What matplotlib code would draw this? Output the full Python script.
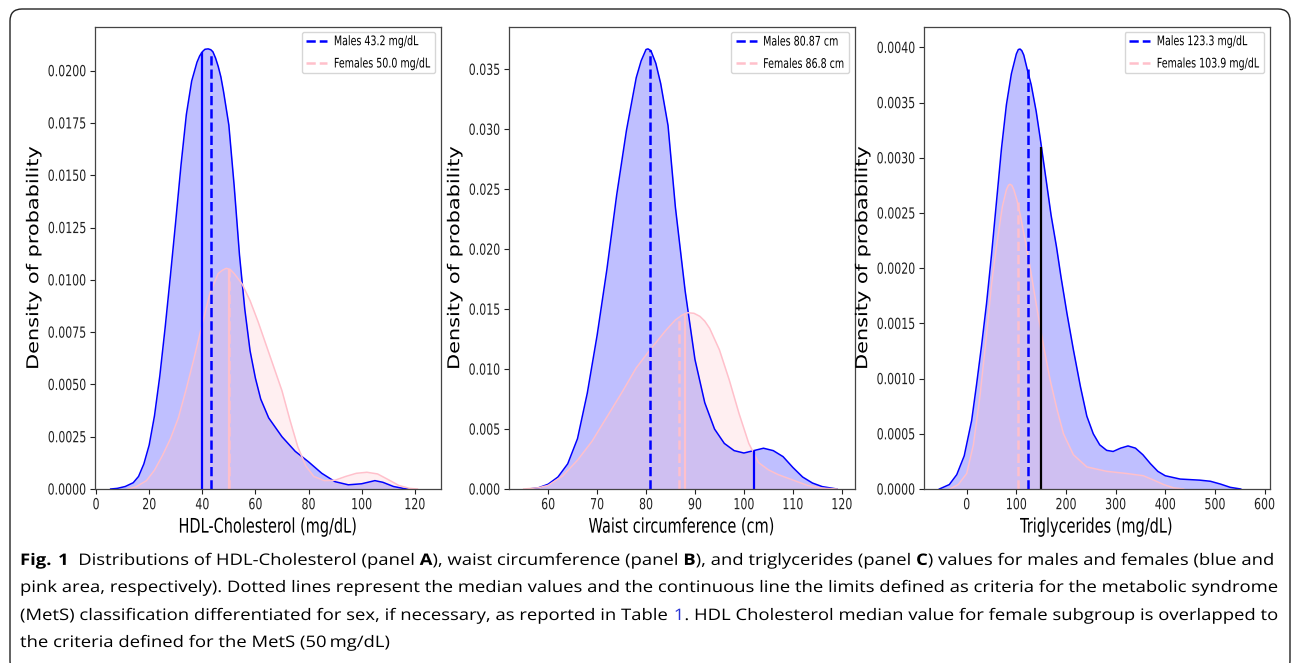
import numpy as np
import matplotlib
matplotlib.use("Agg")
import matplotlib.pyplot as plt
from matplotlib import font_manager
from matplotlib.patches import FancyBboxPatch
from matplotlib.patheffects import AbstractPathEffect
from matplotlib.transforms import IdentityTransform, Affine2D

# ---- data (kde curves, medians, MetS limits) ----
hdl_m_x = [5.5, 8, 11, 14, 16, 18, 20, 22, 24, 26, 28, 30, 32, 34, 36, 38, 39, 40, 41, 42.2, 43.2,
           44, 45, 46, 47, 48, 50, 52, 54, 56, 58, 60, 62, 65, 70, 75, 80, 85, 90, 95, 100, 105,
           108, 112, 116, 119]
hdl_m_y = [0, 0.00003, 0.00012, 0.0003, 0.0006, 0.0012, 0.0021, 0.0035, 0.0054, 0.0077, 0.0102,
           0.0128, 0.0155, 0.0179, 0.0195, 0.0204, 0.0207, 0.0209, 0.02102, 0.02104, 0.0210,
           0.0209, 0.0206, 0.0202, 0.0197, 0.0190, 0.0174, 0.0145, 0.0112, 0.0086, 0.0066,
           0.0053, 0.0043, 0.0034, 0.0025, 0.0018, 0.0013, 0.00075, 0.00035, 0.0002, 0.00025,
           0.0004, 0.00032, 0.00012, 0.00002, 0]
hdl_f_x = [12, 15, 19, 22, 25, 28, 31, 34, 37, 40, 43, 46, 47.5, 49, 50.5, 52, 55, 58, 61, 64, 67,
           70, 73, 76, 79, 82, 86, 90, 94, 98, 102, 106, 110, 114, 118, 121]
hdl_f_y = [0, 0.0001, 0.0004, 0.0009, 0.0016, 0.0024, 0.0034, 0.0048, 0.0063, 0.0079, 0.0094,
           0.0103, 0.01045, 0.01055, 0.0105, 0.0103, 0.0098, 0.0090, 0.0080, 0.0069, 0.0058,
           0.0047, 0.0033, 0.0020, 0.0011, 0.0006, 0.0004, 0.00042, 0.0006, 0.00075, 0.0008,
           0.00072, 0.00045, 0.00017, 0.00003, 0]

waist_m_x = [56, 58, 60, 62, 64, 66, 68, 70, 72, 74, 76, 78, 79, 80, 80.4, 81, 82, 83, 84.5, 86,
             88, 90, 92, 94, 96, 98, 100, 102, 104, 106, 108, 110, 112, 114, 116, 119]
waist_m_y = [0, 0.0001, 0.0004, 0.0010, 0.0021, 0.0042, 0.0080, 0.0128, 0.0183, 0.0245, 0.0299,
             0.0343, 0.0357, 0.03665, 0.0367, 0.03655, 0.0355, 0.0338, 0.0303, 0.0235, 0.0165,
             0.0108, 0.0072, 0.0050, 0.0038, 0.0032, 0.0030, 0.0032, 0.0034, 0.0032, 0.0027,
             0.0018, 0.0010, 0.0005, 0.0002, 0]
waist_f_x = [55, 58, 60, 63, 66, 69, 72, 75, 78, 81, 84, 86, 87.3, 88.5, 89.8, 91, 92, 93, 95, 97,
             99, 101, 103, 105, 107, 110, 113, 116, 119]
waist_f_y = [0, 0.0001, 0.0003, 0.0011, 0.0024, 0.0040, 0.0060, 0.0080, 0.0101, 0.0117, 0.0132,
             0.0141, 0.01448, 0.0147, 0.01465, 0.0144, 0.0140, 0.0134, 0.0116, 0.0091, 0.0063,
             0.0038, 0.0022, 0.0016, 0.0012, 0.00075, 0.0003, 0.00007, 0]

tg_m_x = [-55, -35, -20, -5, 10, 20, 30, 40, 50, 60, 70, 80, 90, 100, 104, 107.5, 111, 115, 122,
          130, 140, 148, 160, 170, 181, 190, 202, 215, 229, 242, 255, 268, 282, 295, 310, 325,
          340, 355, 370, 385, 400, 430, 470, 491, 511, 531, 552]
tg_m_y = [0, 0.00004, 0.00013, 0.0003, 0.00062, 0.00095, 0.0013, 0.00168, 0.00212, 0.0026,
          0.00308, 0.00348, 0.00376, 0.00394, 0.00398, 0.003985, 0.00397, 0.00393, 0.0038,
          0.00366, 0.00342, 0.00318, 0.0028, 0.00248, 0.00219, 0.00192, 0.00159, 0.00126,
          0.00093, 0.00066, 0.0005, 0.0004, 0.00035, 0.00034, 0.00037, 0.00039, 0.00037,
          0.00031, 0.00023, 0.00016, 0.00012, 0.00009, 0.00008, 0.00007, 0.000045, 0.000015, 0]
tg_f_x = [-34, -17, 0, 13.5, 27, 40, 50, 57, 64, 72, 80, 84, 87, 91, 95, 101, 108, 114, 121, 128,
          141, 155, 168, 182, 195, 215, 242, 282, 323, 356, 377, 397, 417, 437]
tg_f_y = [0, 0.00004, 0.00014, 0.0004, 0.00085, 0.0014, 0.00185, 0.0021, 0.00232, 0.00256,
          0.00271, 0.00275, 0.00276, 0.00275, 0.00271, 0.00262, 0.00248, 0.00234, 0.00218, 0.002,
          0.00165, 0.00129, 0.00099, 0.00072, 0.0005, 0.00031, 0.0002, 0.00016, 0.00014,
          0.00012, 0.00008, 0.00004, 0.00001, 0]

# medians (dashed) and MetS limits (solid): x position, top of line
hdl_med = {"m": (43.2, 0.0209), "f": (50.0, 0.0105)}
hdl_lim = [(40, 0.0209, "blue"), (50, 0.0105, "pink")]
waist_med = {"m": (80.87, 0.0366), "f": (86.8, 0.0141)}
waist_lim = [(102, 0.0032, "blue"), (88, 0.0147, "pink")]
tg_med = {"m": (123.3, 0.0038), "f": (103.9, 0.0026)}
tg_lim = [(150, 0.0031, "black")]

legend_txt = [("Males 43.2 mg/dL", "Females 50.0 mg/dL"),
              ("Males 80.87 cm", "Females 86.8 cm"),
              ("Males 123.3 mg/dL", "Females 103.9 mg/dL")]
xlabels = ["HDL-Cholesterol (mg/dL)", "Waist circumference (cm)", "Triglycerides (mg/dL)"]


class Squeeze(AbstractPathEffect):
    """Scale the glyph outlines of a text around an anchor (the source image is squeezed)."""

    def __init__(self, sx=1.0, sy=1.0, ax="center", ay="center"):
        super().__init__()
        self.sx, self.sy, self.ax, self.ay = sx, sy, ax, ay

    def draw_path(self, renderer, gc, tpath, affine, rgbFace=None):
        e = tpath.get_extents()
        cx = {"left": e.x0, "center": (e.x0 + e.x1) / 2, "right": e.x1}.get(self.ax, self.ax)
        cy = {"bottom": e.y0, "center": (e.y0 + e.y1) / 2, "top": e.y1}.get(self.ay, self.ay)
        t = Affine2D().translate(-cx, -cy).scale(self.sx, self.sy).translate(cx, cy)
        renderer.draw_path(gc, tpath, t + affine, rgbFace)


K = 0.72  # horizontal squeeze of the plot texts
names = {f.name for f in font_manager.fontManager.ttflist}
capfont = "Open Sans" if "Open Sans" in names else "DejaVu Sans"
plt.rcParams["mathtext.fontset"] = "custom"
plt.rcParams["mathtext.rm"] = capfont
plt.rcParams["mathtext.bf"] = capfont + ":bold"
plt.rcParams["font.family"] = "DejaVu Sans"

W, H = 1292, 663
fig = plt.figure(figsize=(W / 100, H / 100), dpi=100)

panels = [
    (95, hdl_m_x, hdl_m_y, hdl_f_x, hdl_f_y, hdl_med, hdl_lim, (-0.4, 129.7), 0.0221,
     np.arange(0, 121, 20), np.arange(0, 0.0201, 0.0025), "%.4f"),
    (509, waist_m_x, waist_m_y, waist_f_x, waist_f_y, waist_med, waist_lim, (52.0, 122.6), 0.03855,
     np.arange(60, 121, 10), np.arange(0, 0.0351, 0.005), "%.3f"),
    (924, tg_m_x, tg_m_y, tg_f_x, tg_f_y, tg_med, tg_lim, (-86, 610), 0.004187,
     np.arange(0, 601, 100), np.arange(0, 0.00401, 0.0005), "%.4f"),
]

for i, (left, mx, my, fx, fy, med, lim, xl, ytop, xt, yt, fmt) in enumerate(panels):
    ax = fig.add_axes([left / W, (H - 489) / H, 345.5 / W, 462.3 / H])
    ax.fill_between(mx, my, color="blue", alpha=0.25, lw=0)
    ax.plot(mx, my, color="blue", lw=1.1)
    ax.fill_between(fx, fy, color="pink", alpha=0.25, lw=0)
    ax.plot(fx, fy, color="pink", lw=1.1)
    for x, top, c in lim:
        ax.vlines(x, 0, top, colors=c, lw=1.6)
    ax.vlines(med["m"][0], 0, med["m"][1], colors="blue", linestyles="--", lw=1.8,
              label=legend_txt[i][0])
    ax.vlines(med["f"][0], 0, med["f"][1], colors="pink", linestyles="--", lw=1.8,
              label=legend_txt[i][1])
    ax.set_xlim(*xl)
    ax.set_ylim(0, ytop)
    ax.set_xticks(xt)
    ax.set_yticks(yt)
    ax.set_yticklabels([fmt % v for v in yt])
    for lab in ax.get_xticklabels():
        lab.set_fontsize(11 * K)
        lab.set_path_effects([Squeeze(sy=1 / K, ay="top")])
    for lab in ax.get_yticklabels():
        lab.set_fontsize(11 * K)
        lab.set_path_effects([Squeeze(sy=1 / K, ay="center")])
    for s in ax.spines.values():
        s.set_color("#444444")
        s.set_linewidth(0.9)
    ax.tick_params(colors="#222222", length=3.5, width=0.8, pad=3)
    xlab = ax.set_xlabel(xlabels[i], fontsize=14.5 * K, labelpad=6)
    xlab.set_path_effects([Squeeze(sy=1 / K, ay="top")])
    ylab = ax.set_ylabel("Density of probability", fontsize=15, labelpad=3)
    ylab.set_path_effects([Squeeze(sy=0.78, ay="center")])
    leg = ax.legend(loc="upper right", prop={"size": 9.5 * K}, labelspacing=1.4, borderpad=0.5,
                    handlelength=2.2, handletextpad=0.7, borderaxespad=0.6)
    for t in leg.get_texts():
        t.set_path_effects([Squeeze(sy=1 / K, ay="center")])

# ---- caption ----
csz = 13.3
cap = {"family": capfont, "size": csz}
cap_fx = [Squeeze(sy=0.86, ay=0.0)]
x0 = 20 / W
base = [565, 592, 620, 647]
line1 = (r"$\mathbf{Fig.\,1}$  Distributions of HDL-Cholesterol (panel $\mathbf{A}$), waist circumference "
         r"(panel $\mathbf{B}$), and triglycerides (panel $\mathbf{C}$) values for males and females (blue and")
line2 = ("pink area, respectively). Dotted lines represent the median values and the continuous line "
         "the limits defined as criteria for the metabolic syndrome")
line3a = "(MetS) classification differentiated for sex, if necessary, as reported in Table"
line3c = ". HDL Cholesterol median value for female subgroup is overlapped to"
line4 = "the criteria defined for the MetS (50\u2009mg/dL)"

fig.text(x0, 1 - base[0] / H, line1, va="baseline", path_effects=cap_fx, **cap)
fig.text(x0, 1 - base[1] / H, line2, va="baseline", path_effects=cap_fx, **cap)
fig.text(x0, 1 - base[3] / H, line4, va="baseline", path_effects=cap_fx,
         family=[capfont, "DejaVu Sans"], size=csz)

r = fig.canvas.get_renderer()
fig.text(x0, 1 - base[2] / H, line3a, va="baseline", path_effects=cap_fx, **cap)
m1 = fig.text(x0, 1 - base[2] / H, line3a + " 1", va="baseline", alpha=0, **cap)
m2 = fig.text(x0, 1 - base[2] / H, line3a + " 1" + line3c, va="baseline", alpha=0, **cap)
x1 = m1.get_window_extent(r).x1 / W
x2 = m2.get_window_extent(r).x1 / W
fig.text(x1, 1 - base[2] / H, "1", va="baseline", ha="right", color="#2a35d6",
         path_effects=cap_fx, **cap)
fig.text(x2, 1 - base[2] / H, line3c, va="baseline", ha="right", path_effects=cap_fx, **cap)

# rounded frame around the figure
frame = FancyBboxPatch((10, -10), 1280, 664, boxstyle="round,pad=0,rounding_size=12",
                       transform=IdentityTransform(), fill=False, ec="#222222", lw=1.0)
fig.patches.append(frame)

fig.savefig("out.png", dpi=100)
